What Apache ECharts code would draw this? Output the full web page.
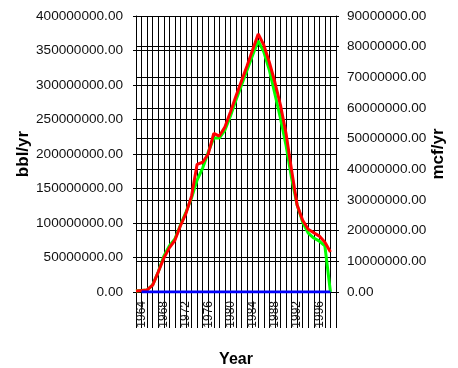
<!DOCTYPE html>
<html><head><meta charset="utf-8">
<script src="https://cdn.jsdelivr.net/npm/echarts@6/dist/echarts.min.js"></script>
<style>html,body{margin:0;padding:0;background:#fff}#c{width:458px;height:368px}</style>
</head><body><div id="c"></div>
<script>
const years = ['1963','1964','1965','1966','1967','1968','1969','1970','1971','1972','1973','1974','1975','1976','1977','1978','1979','1980','1981','1982','1983','1984','1985','1986','1987','1988','1989','1990','1991','1992','1993','1994','1995','1996','1997','1998','1999'];
// oil, bbl/yr (left axis)
const oilBbl = [1.5e6,2.2e6,3e6,10e6,29e6,49e6,64e6,75e6,96e6,114e6,139e6,185e6,188e6,200e6,230e6,226e6,239e6,261e6,284e6,306e6,328e6,351e6,374e6,358e6,333e6,304e6,271e6,230e6,177e6,126e6,104e6,91e6,86e6,81e6,72e6,58e6,null];
// gas, mcf/yr (right axis)
const gasMcf = [0.3e6,0.5e6,0.65e6,2.3e6,6.5e6,11.7e6,15e6,17.3e6,21.8e6,26.1e6,30.7e6,36.5e6,40.4e6,45.6e6,50.2e6,50.2e6,52.8e6,57.4e6,62.6e6,67.5e6,72.4e6,77.3e6,81.9e6,78.3e6,72.4e6,64.6e6,56.7e6,47.9e6,37.2e6,28.4e6,22.8e6,19.2e6,17.6e6,16.6e6,15e6,0,null];
// water (flat at zero)
const water = [null,0,0,0,0,0,0,0,0,0,0,0,0,0,0,0,0,0,0,0,0,0,0,0,0,0,0,0,0,0,0,0,0,0,0,0,null];
const leftTicks = {min:0, max:400000000, interval:50000000};
const rightTicks = {min:0, max:90000000, interval:10000000};

const FONT = '"Liberation Sans",Arial,sans-serif';
const chart = echarts.init(document.getElementById('c'), null, {renderer:'canvas'});
const fmt = v => v.toFixed(2);
chart.setOption({
  animation:false,
  grid:{left:136, right:122, top:16, bottom:76, containLabel:false, outerBoundsMode:'none'},
  xAxis:{
    type:'category', data:years, boundaryGap:false,
    name:'Year', nameLocation:'middle', nameGap:60,
    nameTextStyle:{fontFamily:FONT, fontWeight:'bold', fontSize:16, color:'#000'},
    axisLine:{lineStyle:{color:'#000', width:1}},
    axisTick:{show:true, interval:0, length:36, lineStyle:{color:'#000'}},
    axisLabel:{interval:(i)=> (i-1)%4===0, rotate:90, margin:9, fontFamily:FONT, fontSize:12, color:'#111'},
    splitLine:{show:true, interval:0, lineStyle:{color:'#000', width:1}}
  },
  yAxis:[{
    type:'value', min:leftTicks.min, max:leftTicks.max, interval:leftTicks.interval, position:'left',
    name:'bbl/yr', nameLocation:'middle', nameGap:86,
    nameTextStyle:{fontFamily:FONT, fontWeight:'bold', fontSize:17, color:'#000'},
    axisLine:{show:true, lineStyle:{color:'#000'}},
    axisTick:{show:true, length:3, lineStyle:{color:'#000'}},
    axisLabel:{formatter:fmt, margin:13, fontFamily:FONT, fontSize:13.6, color:'#111'},
    splitLine:{show:true, lineStyle:{color:'#000', width:1}}
  },{
    type:'value', min:rightTicks.min, max:rightTicks.max, interval:rightTicks.interval, position:'right',
    name:'mcf/yr', nameLocation:'middle', nameGap:83,
    nameTextStyle:{fontFamily:FONT, fontWeight:'bold', fontSize:17, color:'#000'},
    axisLine:{show:true, lineStyle:{color:'#000'}},
    axisTick:{show:true, length:3, lineStyle:{color:'#000'}},
    axisLabel:{formatter:fmt, margin:11, fontFamily:FONT, fontSize:13.6, color:'#111'},
    splitLine:{show:true, lineStyle:{color:'#000', width:1}}
  }],
  series:[
    {name:'mcf/yr', type:'line', yAxisIndex:1, data:gasMcf, symbol:'none', lineStyle:{color:'#00ff00', width:3}, itemStyle:{color:'#00ff00'}},
    {name:'bbl/yr', type:'line', yAxisIndex:0, data:oilBbl, symbol:'none', lineStyle:{color:'#ff0000', width:3}, itemStyle:{color:'#ff0000'}},
    {name:'water', type:'line', yAxisIndex:0, data:water, symbol:'none', lineStyle:{color:'#0000ff', width:3}, itemStyle:{color:'#0000ff'}}
  ]
});
</script></body></html>
